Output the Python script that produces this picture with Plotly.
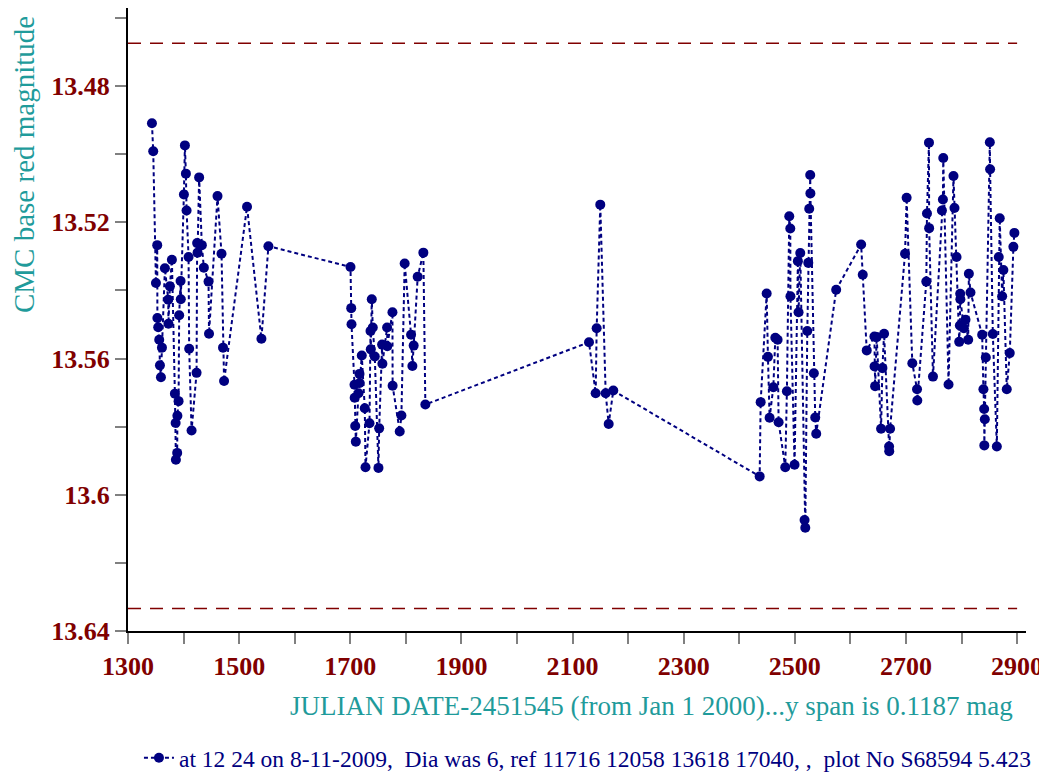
import plotly.graph_objects as go

# CMC red magnitude observations, grouped by observing season (JD - 2451545)
jd_s1 = [1343.1, 1345.4, 1350.3, 1352.6, 1352.9, 1354.4, 1356.2, 1357.5, 1359.3, 1361.1,
         1366.4, 1372.4, 1372.8, 1375.4, 1379.0, 1384.4, 1385.7, 1386.2, 1388.5, 1388.9,
         1391.0, 1392.1, 1394.6, 1395.0, 1400.6, 1402.4, 1404.2, 1405.4, 1409.0, 1410.1,
         1414.4, 1423.4, 1424.4, 1425.2, 1428.0, 1432.9, 1436.5, 1444.9, 1445.8, 1461.1,
         1468.3, 1471.0, 1472.9, 1514.2, 1540.1, 1552.7]
mag_s1 = [13.4909, 13.4991, 13.5378, 13.5267, 13.5481, 13.5508, 13.5545, 13.5620, 13.5655, 13.5568,
          13.5335, 13.5427, 13.5498, 13.5388, 13.5310, 13.5703, 13.5789, 13.5897, 13.5877, 13.5768,
          13.5725, 13.5473, 13.5372, 13.5426, 13.5118, 13.4974, 13.5057, 13.5165, 13.5302, 13.5571,
          13.5811, 13.5642, 13.5261, 13.5289, 13.5068, 13.5267, 13.5333, 13.5374, 13.5527, 13.5123,
          13.5292, 13.5568, 13.5666, 13.5154, 13.5542, 13.5270]

jd_s2 = [1700.4, 1701.7, 1702.2, 1707.6, 1707.9, 1708.9, 1710.0, 1714.8, 1716.6, 1716.9,
         1720.7, 1726.1, 1727.4, 1734.6, 1736.4, 1736.9, 1738.7, 1740.5, 1744.1, 1750.7,
         1752.0, 1757.3, 1757.8, 1766.3, 1766.6, 1775.9, 1776.2, 1789.0, 1792.0, 1797.9,
         1809.4, 1811.8, 1814.1, 1821.3, 1831.5, 1835.1]
mag_s2 = [13.5331, 13.5452, 13.5499, 13.5677, 13.5715, 13.5798, 13.5844, 13.5702, 13.5645, 13.5672,
          13.5591, 13.5746, 13.5919, 13.5790, 13.5519, 13.5573, 13.5426, 13.5509, 13.5594, 13.5921,
          13.5805, 13.5559, 13.5615, 13.5509, 13.5564, 13.5464, 13.5680, 13.5814, 13.5767, 13.5321,
          13.5530, 13.5622, 13.5562, 13.5360, 13.5289, 13.5735]

jd_s3 = [2129.6, 2141.6, 2143.4, 2149.9, 2159.6, 2165.0, 2173.3]
mag_s3 = [13.5552, 13.5702, 13.5511, 13.5148, 13.5702, 13.5792, 13.5694]

jd_s4 = [2436.7, 2438.5, 2449.3, 2451.6, 2454.6, 2461.3, 2464.9, 2469.0, 2470.8, 2482.8,
         2485.7, 2490.0, 2491.8, 2492.1, 2499.5, 2505.5, 2506.7, 2509.8, 2517.5, 2518.8,
         2522.4, 2524.2, 2525.9, 2527.7, 2528.0, 2534.2, 2536.7, 2538.5, 2574.4, 2619.3,
         2622.2, 2629.4, 2643.2, 2643.5, 2644.5, 2647.3, 2655.2, 2657.6, 2660.6, 2669.6,
         2669.9, 2671.4]
mag_s4 = [13.5946, 13.5728, 13.5409, 13.5595, 13.5774, 13.5684, 13.5539, 13.5545, 13.5787, 13.5919,
          13.5696, 13.5182, 13.5218, 13.5417, 13.5912, 13.5314, 13.5464, 13.5290, 13.6074, 13.6097,
          13.5519, 13.5319, 13.5160, 13.5061, 13.5115, 13.5643, 13.5773, 13.5821, 13.5398, 13.5265,
          13.5354, 13.5576, 13.5535, 13.5623, 13.5681, 13.5537, 13.5806, 13.5628, 13.5527, 13.5858,
          13.5872, 13.5806]

jd_s5 = [2698.3, 2701.2, 2711.4, 2719.9, 2720.4, 2736.6, 2737.8, 2741.4, 2741.7, 2748.6,
         2764.7, 2766.5, 2767.1, 2776.6, 2785.5, 2787.3, 2791.0, 2795.8, 2797.0, 2797.6,
         2797.9, 2804.2, 2807.1, 2812.0, 2813.2, 2816.1, 2837.1, 2839.4, 2840.7, 2841.0,
         2841.9, 2843.7, 2850.9, 2851.4, 2856.3, 2863.5, 2867.0, 2868.7, 2873.1, 2875.3,
         2881.4, 2886.8, 2893.3, 2895.1]
mag_s5 = [13.5292, 13.5128, 13.5614, 13.5690, 13.5723, 13.5374, 13.5174, 13.4966, 13.5217, 13.5653,
          13.5165, 13.5133, 13.5011, 13.5676, 13.5064, 13.5158, 13.5302, 13.5551, 13.5503, 13.5410,
          13.5426, 13.5511, 13.5486, 13.5545, 13.5351, 13.5406, 13.5530, 13.5690, 13.5748, 13.5855,
          13.5778, 13.5597, 13.4965, 13.5044, 13.5528, 13.5858, 13.5302, 13.5188, 13.5417, 13.5340,
          13.5690, 13.5584, 13.5272, 13.5231]

upper_limit = 13.4674
lower_limit = 13.6334
limit_span = [1300, 2900]

x_ticks = list(range(1300, 3000, 100))
x_labels = [str(v) if (v - 1300) % 200 == 0 else "" for v in x_ticks]
y_ticks = [13.46, 13.48, 13.50, 13.52, 13.54, 13.56, 13.58, 13.60, 13.62, 13.64]
y_labels = ["", "13.48", "", "13.52", "", "13.56", "", "13.6", "", "13.64"]

legend_name = ("at 12 24 on 8-11-2009,\u00a0 Dia was 6, ref 11716 12058 13618 17040, ,"
               "\u00a0 plot No S68594 5.423")

SERIF = "Liberation Serif, Times New Roman, serif"
NAVY = "#000080"
MAROON = "#800000"
TEAL = "#1f9b9b"

jd = jd_s1 + jd_s2 + jd_s3 + jd_s4 + jd_s5
mag = mag_s1 + mag_s2 + mag_s3 + mag_s4 + mag_s5

fig = go.Figure()
fig.add_trace(go.Scatter(
    x=jd, y=mag, mode="lines+markers", name=legend_name,
    line={"color": NAVY, "width": 2, "dash": "4px,3px"},
    marker={"color": NAVY, "size": 10},
))

for level in (upper_limit, lower_limit):
    fig.add_shape(
        type="line", xref="x", yref="y",
        x0=limit_span[0], x1=limit_span[1], y0=level, y1=level,
        line={"color": MAROON, "width": 1.5, "dash": "13px,9px"},
    )

axis_common = {
    "showgrid": False, "zeroline": False, "showline": True, "automargin": False,
    "linecolor": "black", "linewidth": 2,
    "ticks": "outside", "ticklen": 11, "tickwidth": 2, "tickcolor": "#808080",
    "tickfont": {"family": SERIF, "size": 26, "color": MAROON, "weight": "bold"},
}
fig.update_xaxes(range=[1300, 2916], tickmode="array", tickvals=x_ticks,
                 ticktext=x_labels, **axis_common)
fig.update_yaxes(range=[13.64, 13.45706], tickmode="array", tickvals=y_ticks,
                 ticktext=y_labels, **axis_common)

fig.add_annotation(
    text="CMC base red magnitude", xref="paper", yref="paper",
    x=-0.1158, y=0.748, xanchor="center", yanchor="middle", textangle=-90,
    showarrow=False, font={"family": SERIF, "size": 29, "color": TEAL},
)
fig.add_annotation(
    text="JULIAN DATE-2451545 (from Jan 1 2000)...y span is 0.1187 mag",
    xref="paper", yref="paper", x=0.9878, y=-0.1204,
    xanchor="right", yanchor="middle", showarrow=False,
    font={"family": SERIF, "size": 27, "color": TEAL},
)

# the page body adds an 8px offset, so the figure is 8px smaller than the window
fig.update_layout(
    width=1039, height=773,
    margin={"l": 120, "r": 21, "t": 0, "b": 150},
    paper_bgcolor="white", plot_bgcolor="white",
    showlegend=True,
    legend={"orientation": "h", "x": 0.0122, "y": -0.2392, "xanchor": "left",
            "yanchor": "bottom", "bgcolor": "rgba(0,0,0,0)",
            "font": {"family": SERIF, "size": 23.5, "color": NAVY}},
)

fig.write_html("out.html")
